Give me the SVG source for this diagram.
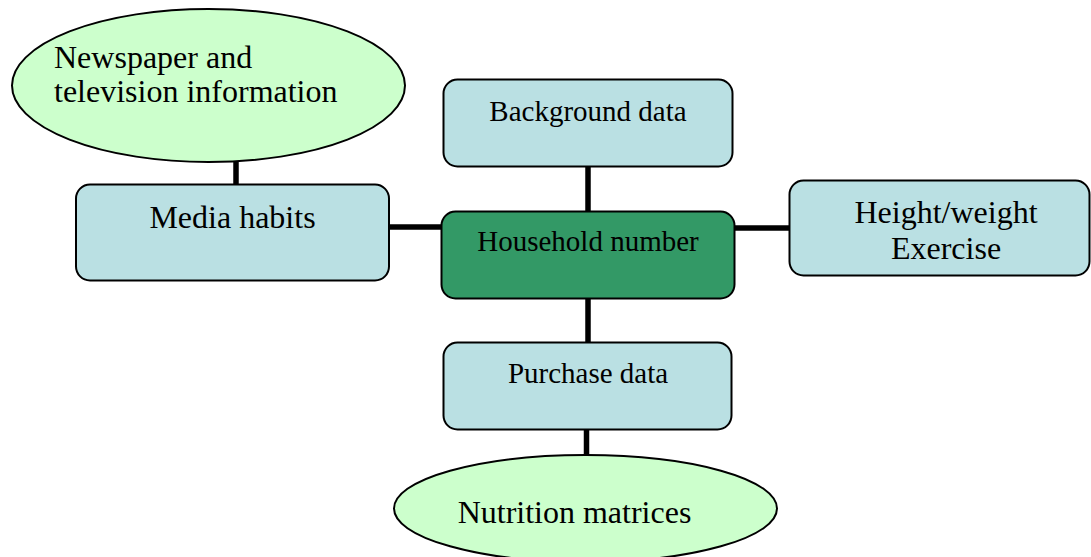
<svg xmlns="http://www.w3.org/2000/svg" width="1091" height="557" viewBox="0 0 1091 557">
<style>
  .box{fill:#BAE0E3;stroke:#000;stroke-width:2}
  .hub{fill:#339966;stroke:#000;stroke-width:2}
  .oval{fill:#CCFFCC;stroke:#000;stroke-width:2}
  .t{font-family:"Liberation Serif","Times New Roman",serif;fill:#000}
  .s32{font-size:32px}
  .s29{font-size:29px}
  .c{text-anchor:middle}
  .conn line{stroke:#000;stroke-width:5.5}
</style>
<rect width="1091" height="557" fill="#fff"/>
<g id="connectors" class="conn">
  <line x1="236" y1="161" x2="236" y2="185"/>
  <line x1="388" y1="227" x2="442" y2="227"/>
  <line x1="588" y1="166" x2="588" y2="212"/>
  <line x1="734" y1="228" x2="790" y2="228"/>
  <line x1="588" y1="298" x2="588" y2="343"/>
  <line x1="586.5" y1="428" x2="586.5" y2="456"/>
</g>
<g id="newspaper">
  <ellipse class="oval" cx="208.5" cy="85.5" rx="196.5" ry="76.5"/>
  <text class="t s32" x="54" y="68">Newspaper and</text>
  <text class="t s32" x="54" y="102">television information</text>
</g>
<g id="media">
  <rect class="box" x="76" y="184.5" width="313" height="96" rx="14"/>
  <text class="t s32 c" x="232.5" y="228">Media habits</text>
</g>
<g id="background">
  <rect class="box" x="443.5" y="79.5" width="289" height="87" rx="14"/>
  <text class="t s29 c" x="588" y="121">Background data</text>
</g>
<g id="household">
  <rect class="hub" x="441.5" y="211.5" width="293" height="87" rx="14"/>
  <text class="t s29 c" x="588" y="251">Household number</text>
</g>
<g id="heightweight">
  <rect class="box" x="789.5" y="180.5" width="300" height="95" rx="14"/>
  <text class="t s32 c" x="946" y="223">Height/weight</text>
  <text class="t s32 c" x="946" y="259">Exercise</text>
</g>
<g id="purchase">
  <rect class="box" x="443.5" y="342.5" width="288" height="87" rx="14"/>
  <text class="t s29 c" x="588" y="383">Purchase data</text>
</g>
<g id="nutrition">
  <ellipse class="oval" cx="585.5" cy="508.5" rx="191.5" ry="53.5"/>
  <text class="t s32 c" x="574.5" y="523">Nutrition matrices</text>
</g>
</svg>
